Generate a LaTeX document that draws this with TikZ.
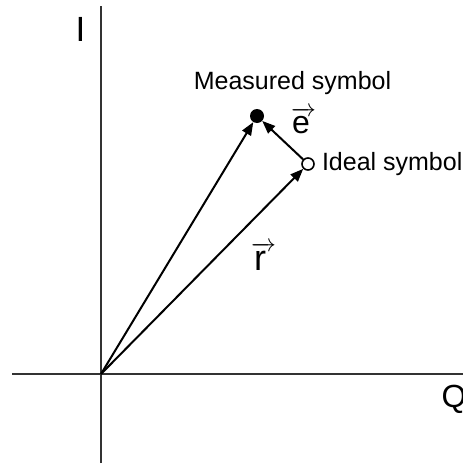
\documentclass[tikz,border=0pt]{standalone}
\usepackage{fontspec}
\setmainfont{Liberation Sans}
\usetikzlibrary{arrows.meta,positioning}
\begin{document}
\begin{tikzpicture}[x=1pt, y=-1pt,
  axis/.style={line width=2pt, draw=black!80},
  vec/.style={-{Triangle[length=13pt,width=10pt]}, line width=2pt},
  meas/.style={circle, fill=black, minimum size=14pt, inner sep=0pt},
  ideal/.style={circle, draw, fill=white, line width=1.6pt, minimum size=12pt, inner sep=0pt},
  lbl/.style={font=\fontsize{25}{30}\selectfont, inner sep=0pt},
  big/.style={font=\fontsize{#1}{#1}\selectfont, inner sep=0pt}
]
  \useasboundingbox (0,0) rectangle (463,466);
  % axes
  \coordinate (O)    at (101,374);
  \coordinate (itop) at (101,6);
  \coordinate (ibot) at (101,463);
  \coordinate (qlft) at (12,374);
  \coordinate (qrgt) at (465,374);
  \draw[axis] (ibot) -- (itop);
  \draw[axis] (qlft) -- (qrgt);
  \node[big=35] (ilbl) at (80.5,29.5) {I};
  \node[big=32] (qlbl) at (454,399) {Q};
  % symbols
  \node[meas]  (meas)  at (257,116) {};
  \node[ideal] (ideal) at (308,164) {};
  \draw[vec] (O) -- (meas);
  \draw[vec] (O) -- (ideal);
  \draw[vec] (ideal) -- (meas);
  \node[lbl, anchor=base] (measlbl) at (292.5,89) {Measured symbol};
  \node[lbl, right=7pt of ideal] (ideallbl) {Ideal symbol};
  \node[big=32, anchor=base west] (elbl) at (291,133) {$\overrightarrow{\mbox{e}\hspace{5pt}}$};
  \node[big=36, anchor=base west] (rlbl) at (251,270) {$\overrightarrow{\mbox{r}\hspace{7pt}}$};
\end{tikzpicture}
\end{document}
